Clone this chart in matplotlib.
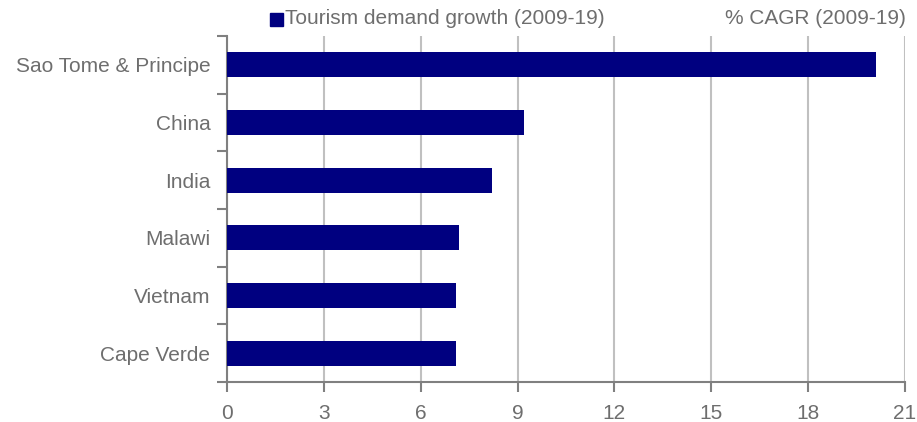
import matplotlib
matplotlib.use("Agg")
import matplotlib.pyplot as plt
from matplotlib.patches import Rectangle

categories = ["Sao Tome & Principe", "China", "India", "Malawi", "Vietnam", "Cape Verde"]
values = [20.1, 9.2, 8.2, 7.2, 7.1, 7.1]
xticks = [0, 3, 6, 9, 12, 15, 18, 21]
legend_label = "Tourism demand growth (2009-19)"
unit_label = "% CAGR (2009-19)"

plt.rcParams['font.family'] = ['Liberation Sans', 'DejaVu Sans']
text_color = "#6e6e6e"
bar_color = "#000080"
fs = 15

fig = plt.figure(figsize=(9.17, 4.22), dpi=100)
W, H = 917, 422
left, right, top, bottom = 227, 905, 36, 382
ax = fig.add_axes([left / W, 1 - bottom / H, (right - left) / W, (bottom - top) / H])

n = len(categories)
ypos = list(range(n))
ax.barh(ypos, values, height=0.43, color=bar_color, zorder=3)
ax.set_ylim(n - 0.5, -0.5)
ax.set_xlim(0, 21)
ax.set_xticks(xticks)
ax.set_xticklabels([str(t) for t in xticks], fontsize=fs, color=text_color)
ax.set_yticks(ypos)
ax.set_yticklabels(categories, fontsize=fs, color=text_color)
ax.tick_params(axis='y', length=0, pad=12)
ax.set_yticks([i + 0.5 for i in range(-1, n)], minor=True)
ax.tick_params(axis='y', which='minor', length=7, width=1.5, color="#808080", direction='out')
ax.tick_params(axis='x', length=7, width=1.5, color="#808080", direction='out', pad=9)

ax.grid(axis='x', color="#c0c0c0", linewidth=1.5, zorder=0)
for s in ['top', 'right']:
    ax.spines[s].set_visible(False)
for s in ['left', 'bottom']:
    ax.spines[s].set_color("#808080")
    ax.spines[s].set_linewidth(1.5)

# legend
fig.patches.append(Rectangle((270 / W, 1 - 26 / H), 13 / W, 13 / H,
                             transform=fig.transFigure, color=bar_color))
fig.text(285 / W, 1 - 18 / H, legend_label, fontsize=fs, color=text_color, va='center', ha='left')
fig.text(906 / W, 1 - 18 / H, unit_label, fontsize=fs, color=text_color, va='center', ha='right')

fig.savefig("out.png", dpi=100)
